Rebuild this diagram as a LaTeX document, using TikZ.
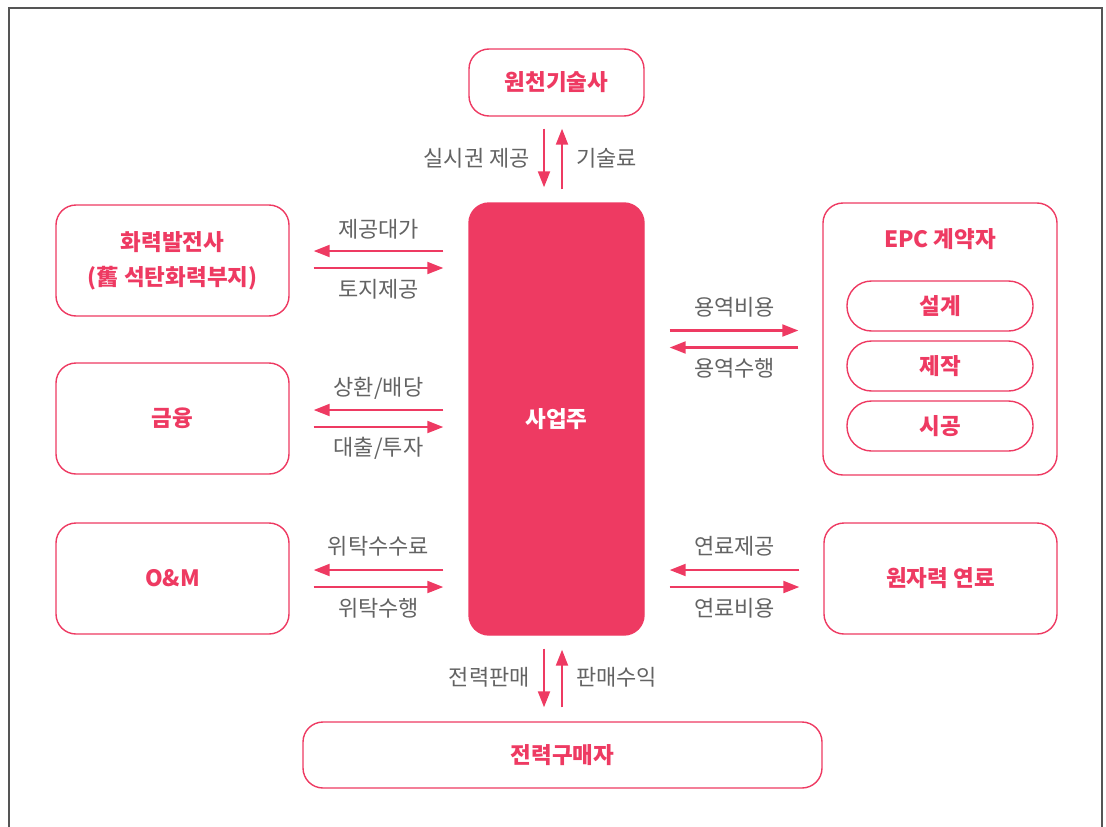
\documentclass[tikz,border=0pt]{standalone}
\usepackage{fontspec}
\setmainfont{Noto Sans CJK KR}
\usetikzlibrary{arrows.meta,calc}
\definecolor{pk}{HTML}{EE3A62}
\definecolor{lab}{HTML}{636363}
\definecolor{frm}{HTML}{555555}
\begin{document}
\begin{tikzpicture}[x=1pt,y=-1pt,
  box/.style={draw=pk,line width=1.4pt,rounded corners=20pt,fill=white,text=pk,
    font=\fontsize{22.5}{26}\selectfont\bfseries,inner sep=0pt},
  pill/.style={box,rounded corners=24.5pt},
  lbl/.style={text=lab,font=\fontsize{22}{26}\selectfont,inner sep=0pt},
  arr/.style={draw=pk,line width=2.2pt,-{Triangle[length=16pt,width=12pt]}}]
\useasboundingbox (0,0) rectangle (1106,827);
\draw[frm,line width=2pt] (9,827) -- (9,8) -- (1102,8) -- (1102,827);

% nodes
\node[box,minimum width=175pt,minimum height=67pt] (tech) at (556.5,82.5) {원천기술사};
\node[box,fill=pk,text=white,minimum width=175pt,minimum height=432pt] (main) at (556.5,419) {사업주};
\node[box,minimum width=233pt,minimum height=111pt,align=center,
  font=\fontsize{22.5}{35}\selectfont\bfseries] (fire) at (172.5,260.5) {화력발전사\\(舊 석탄화력부지)};
\node[box,minimum width=233pt,minimum height=111pt] (fin) at (172.5,418.5) {금융};
\node[box,minimum width=233pt,minimum height=111pt] (om) at (172.5,578.5) {O\&M};
\node[box,minimum width=234pt,minimum height=272pt] (epc) at (940,339) {};
\node[text=pk,font=\fontsize{22.5}{26}\selectfont\bfseries,inner sep=0pt] (epct) at ($(epc.north)+(0,37)$) {EPC 계약자};
\node[pill,minimum width=186pt,minimum height=50pt] (des) at (940,306) {설계};
\node[pill,minimum width=186pt,minimum height=50pt] (mak) at (940,366) {제작};
\node[pill,minimum width=186pt,minimum height=50pt] (bld) at (940,426) {시공};
\node[box,minimum width=233pt,minimum height=111pt] (fuel) at (940.5,578.5) {원자력 연료};
\node[box,minimum width=519pt,minimum height=66pt] (buyer) at (562.5,755) {전력구매자};

% top arrows
\draw[arr] ($(tech.south)+(-12.5,12)$) -- ($(main.north)+(-12.5,-15)$);
\draw[arr] ($(main.north)+(5.5,-13)$) -- ($(tech.south)+(5.5,12)$);
\node[lbl,anchor=east] (l1) at (530,158) {실시권 제공};
\node[lbl,anchor=west] (l2) at (576,158) {기술료};

% left rows
\draw[arr] ($(fire.east -| main.west)+(-25,-9.5)$) -- ($(fire.east)+(24,-9.5)$);
\draw[arr] ($(fire.east)+(24,7.5)$) -- ($(fire.east -| main.west)+(-25,7.5)$);
\node[lbl] (l3) at (378.5,229.5) {제공대가};
\node[lbl] (l4) at (378.5,289.5) {토지제공};

\draw[arr] ($(fin.east -| main.west)+(-25,-8.5)$) -- ($(fin.east)+(24,-8.5)$);
\draw[arr] ($(fin.east)+(24,8.5)$) -- ($(fin.east -| main.west)+(-25,8.5)$);
\node[lbl] (l5) at (378.5,388.5) {상환/배당};
\node[lbl] (l6) at (378.5,448.5) {대출/투자};

\draw[arr] ($(om.east -| main.west)+(-25,-8.5)$) -- ($(om.east)+(24,-8.5)$);
\draw[arr] ($(om.east)+(24,8.5)$) -- ($(om.east -| main.west)+(-25,8.5)$);
\node[lbl] (l7) at (378.5,546.5) {위탁수수료};
\node[lbl] (l8) at (378.5,608.5) {위탁수행};

% right rows
\draw[arr] ($(epc.west -| main.east)+(25,-8.5)$) -- ($(epc.west)+(-24,-8.5)$);
\draw[arr] ($(epc.west)+(-24,8.5)$) -- ($(epc.west -| main.east)+(25,8.5)$);
\node[lbl] (l9) at (734.5,307.5) {용역비용};
\node[lbl] (l10) at (734.5,368.5) {용역수행};

\draw[arr] ($(fuel.west)+(-24,-8.5)$) -- ($(fuel.west -| main.east)+(25,-8.5)$);
\draw[arr] ($(fuel.west -| main.east)+(25,8.5)$) -- ($(fuel.west)+(-24,8.5)$);
\node[lbl] (l11) at (734.5,546.5) {연료제공};
\node[lbl] (l12) at (734.5,608.5) {연료비용};

% bottom arrows
\draw[arr] ($(main.south)+(-12.5,13)$) -- ($(buyer.north)+(-18.5,-14)$);
\draw[arr] ($(buyer.north)+(-0.5,-14)$) -- ($(main.south)+(5.5,14)$);
\node[lbl,anchor=east] (l13) at (530,677) {전력판매};
\node[lbl,anchor=west] (l14) at (576,677) {판매수익};
\end{tikzpicture}
\end{document}
